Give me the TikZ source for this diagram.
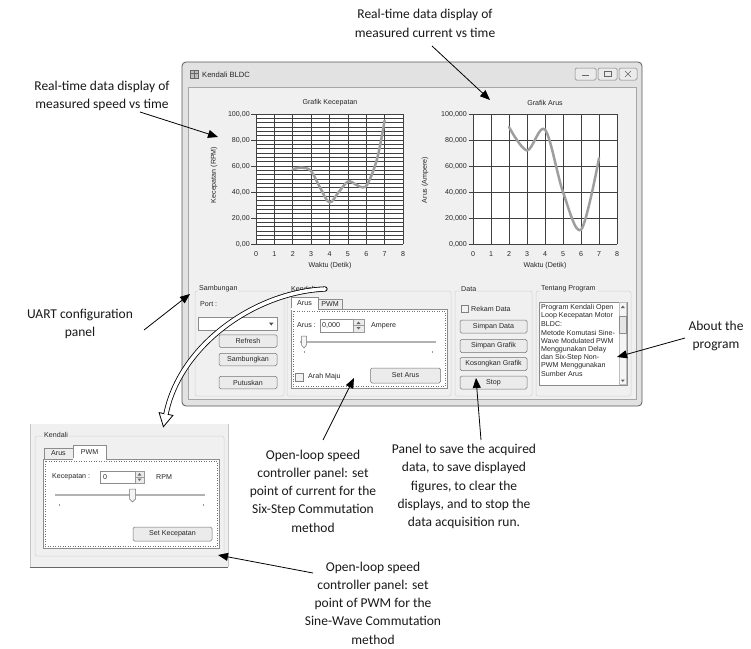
\documentclass[tikz,border=0pt]{standalone}
\usepackage{fontspec}
\newfontfamily\annfont{Carlito}
\newfontfamily\uifont{Liberation Sans}
\usetikzlibrary{arrows.meta}
\definecolor{formbg}{HTML}{F0F0F0}
\definecolor{framebg}{HTML}{E2E2E2}
\begin{document}
\begin{tikzpicture}[x=1pt,y=-1pt,
  ann/.style={font=\annfont\fontsize{13.5}{18.3}\selectfont, align=center, inner sep=0pt, text=black!90},
  ui/.style={font=\uifont\fontsize{7.1}{8}\selectfont, inner sep=0pt, text=black!85},
  btn/.style={ui, draw=black!55, fill=black!8, rounded corners=1.5pt, line width=0.5pt},
  annarrow/.style={line width=0.8pt, -{Triangle[length=10pt,width=8pt]}},
  gridc/.style={line width=0.6pt, draw=black!75},
  curvec/.style={line width=2.5pt, draw=black!38, line cap=round, line join=round},
  grp/.style={draw=black!18, line width=0.5pt, rounded corners=2pt},
  tbox/.style={draw=black!45, fill=white, line width=0.5pt},
  chk/.style={draw=black!50, fill=black!5, line width=0.5pt},
  tabsel/.style={draw=black!45, fill=white, line width=0.5pt},
  tabun/.style={draw=black!45, fill=black!7, line width=0.5pt},
  glabel/.style={ui, fill=formbg, inner xsep=1pt, inner ysep=1pt, anchor=west},
]
\useasboundingbox (0,0) rectangle (751,648);
\fill[white] (0,0) rectangle (751,648);

% ---------------- window ----------------
\draw[fill=framebg, draw=black!65, line width=0.8pt, rounded corners=4pt] (182,62) rectangle (642,406);
\draw[fill=formbg, draw=black!35, line width=0.5pt] (188,87) rectangle (636,399);
% icon and title
\draw[fill=black!25, draw=black!60, line width=0.4pt] (190,70) rectangle (198,78);
\draw[black!60, line width=0.3pt] (190,73) -- (198,73) (194,70) -- (194,78);
\node[ui, anchor=west, font=\uifont\fontsize{7.6}{9}\selectfont] (wtitle) at (202,74.5) {Kendali BLDC};
% title buttons
\draw[fill=black!8, draw=black!50, line width=0.5pt, rounded corners=1.5pt] (575,68) rectangle (596,80);
\draw[black!60, line width=0.9pt] (582,75.5) -- (589,75.5);
\draw[fill=black!8, draw=black!50, line width=0.5pt, rounded corners=1.5pt] (598,68) rectangle (617,80);
\draw[black!60, line width=0.6pt] (604,71.5) rectangle (611,76.5);
\draw[fill=black!8, draw=black!50, line width=0.5pt, rounded corners=1.5pt] (619,68) rectangle (637,80);
\draw[black!60, line width=0.6pt] (625,71) -- (631,77) (625,77) -- (631,71);

% ---------------- chart 1 ----------------
\node[ui] (t1) at (330,103) {Grafik Kecepatan};
\node[ui, rotate=90] (yl1) at (214,175) {Kecepatan (RPM)};
\node[ui] (xl1) at (330,266) {Waktu (Detik)};
\begin{scope}[shift={(256,244)}, x=18.375pt, y=1.3pt]
  \fill[white] (0,0) rectangle (8,100);
  \foreach \i in {0,...,30} \draw[gridc] (0,{\i*10/3}) -- (8,{\i*10/3});
  \foreach \i in {0,...,8} {\draw[gridc] (\i,0) -- (\i,100);
    \node[ui] (ax\i) at (\i,-7.7) {\i};}
  \foreach \v/\l in {0/{0,00},20/{20,00},40/{40,00},60/{60,00},80/{80,00},100/{100,00}} {
    \draw[gridc] (-0.25,\v) -- (0,\v);
    \node[ui, anchor=east] (ay\v) at (-0.33,\v) {\l};}
  \draw[curvec] plot[smooth, tension=0.6] coordinates {(2,57.5) (2.5,58.7) (3,56) (3.5,43) (4,32) (4.5,40) (5,48) (5.4,46) (5.8,43.5) (6.1,47) (6.6,66) (7,95)};
\end{scope}

% ---------------- chart 2 ----------------
\node[ui] (t2) at (545,103) {Grafik Arus};
\node[ui, rotate=90] (yl2) at (425,180) {Arus (Ampere)};
\node[ui] (xl2) at (545,266) {Waktu (Detik)};
\begin{scope}[shift={(473,244)}, x=18pt, y=1.3pt]
  \fill[white] (0,0) rectangle (8,100);
  \foreach \i in {0,20,...,100} \draw[gridc] (0,\i) -- (8,\i);
  \foreach \i in {0,...,8} {\draw[gridc] (\i,0) -- (\i,100);
    \node[ui] (bx\i) at (\i,-7.7) {\i};}
  \foreach \v/\l in {0/{0,000},20/{20,000},40/{40,000},60/{60,000},80/{80,000},100/{100,000}} {
    \draw[gridc] (-0.25,\v) -- (0,\v);
    \node[ui, anchor=east] (by\v) at (-0.33,\v) {\l};}
  \draw[curvec] plot[smooth, tension=0.55] coordinates {(2,90) (3,72) (4,88) (5,40) (6,11) (7,66)};
\end{scope}

% ---------------- group boxes ----------------
\draw[grp] (195,291) rectangle (284,396);
\draw[grp] (287,291) rectangle (451,396);
\draw[grp] (455,291) rectangle (532,396);
\draw[grp] (536,291) rectangle (631,396);
\node[glabel] (gSamb) at (198,289) {Sambungan};
\node[glabel] (gKend) at (290,289) {Kendali};
\node[glabel] (gData) at (460,289) {Data};
\node[glabel] (gTent) at (540,289) {Tentang Program};

% Sambungan
\node[ui, anchor=west] (port) at (200,304) {Port :};
\draw[tbox] (198,317) rectangle (277,330);
\fill[black!70] (269,322.5) -- (273.5,322.5) -- (271.25,325.5) -- cycle;
\node[btn, minimum width=58pt, minimum height=12.5pt] (bRefresh) at (248,341) {Refresh};
\node[btn, minimum width=58pt, minimum height=12.5pt] (bSamb) at (248,359.5) {Sambungkan};
\node[btn, minimum width=58pt, minimum height=12.5pt] (bPutus) at (248,382.5) {Putuskan};

% Kendali (Arus tab)
\draw[tabun] (318,299) rectangle (342,309);
\node[ui] (tabPwm) at (330,304) {PWM};
\draw[tabsel] (291,309) rectangle (447,388);
\draw[tabsel] (291,297) rectangle (318,309);
\fill[white] (291.4,308.4) rectangle (317.6,309.6);
\node[ui] (tabArus) at (304.5,303) {Arus};
\draw[black!55, dotted, line width=0.5pt] (293,311) rectangle (445,386);
\node[ui, anchor=west] (lArus) at (297,325.5) {Arus :};
\draw[tbox] (320,319) rectangle (353,332);
\node[ui, anchor=west] (vArus) at (322,325.5) {0,000};
\draw[fill=black!8, draw=black!40, line width=0.5pt] (353,319) rectangle (364,332);
\draw[black!40, line width=0.4pt] (353,325.5) -- (364,325.5);
\fill[black!60] (356.5,324) -- (360.5,324) -- (358.5,321.5) -- cycle;
\fill[black!60] (356.5,327) -- (360.5,327) -- (358.5,329.5) -- cycle;
\node[ui, anchor=west] (lAmp) at (371,325.5) {Ampere};
\draw[black!30, line width=1.2pt] (300,342) -- (436,342);
\draw[fill=black!4, draw=black!55, line width=0.5pt] (301.5,336) -- (306.5,336) -- (306.5,345) -- (304,348) -- (301.5,345) -- cycle;
\draw[black!40, line width=0.4pt] (304,351) -- (304,353) (432,351) -- (432,353);
\draw[chk] (295,373) rectangle (303,381);
\node[ui, anchor=west] (lArah) at (308,377) {Arah Maju};
\node[btn, minimum width=70pt, minimum height=15pt] (bSetArus) at (405.5,375.5) {Set Arus};

% Data
\draw[chk] (461,305) rectangle (468,312);
\node[ui, anchor=west] (lRekam) at (471,308.5) {Rekam Data};
\node[btn, minimum width=67pt, minimum height=13pt] (bSimpanD) at (493.5,326.5) {Simpan Data};
\node[btn, minimum width=67pt, minimum height=13pt] (bSimpanG) at (493.5,346) {Simpan Grafik};
\node[btn, minimum width=67pt, minimum height=13pt] (bKosong) at (493.5,364) {Kosongkan Grafik};
\node[btn, minimum width=67pt, minimum height=13pt] (bStop) at (493.5,382.5) {Stop};

% Tentang Program
\draw[tbox] (539,302) rectangle (627,385);
\draw[fill=black!4, draw=black!25, line width=0.4pt] (619,302.5) rectangle (626.5,384.5);
\draw[fill=black!10, draw=black!45, line width=0.4pt] (619.5,316) rectangle (626,333);
\fill[black!60] (620.8,308) -- (624.8,308) -- (622.8,305.5) -- cycle;
\fill[black!60] (620.8,379.5) -- (624.8,379.5) -- (622.8,382) -- cycle;
\foreach \t [count=\k from 0] in {Program Kendali Open,Loop Kecepatan Motor,BLDC:,Metode Komutasi Sine-,Wave Modulated PWM,Menggunakan Delay,dan Six-Step Non-,PWM Menggunakan,Sumber Arus}
  \node[ui, anchor=west] (tp\k) at (541,{307.7+8.33*\k}) {\t};

% ---------------- inset ----------------
\fill[formbg] (30,424) rectangle (228,567);
\draw[black!22, line width=0.5pt] (30,424) -- (30,567) (228,424) -- (228,567);
\draw[black!60, line width=0.9pt] (30,567) -- (228,567);
\draw[grp] (35,436) rectangle (224,556);
\node[glabel] (iKend) at (43,435) {Kendali};
\draw[tabun] (44,448) rectangle (73,459);
\node[ui] (iTabArus) at (58.5,453.5) {Arus};
\draw[tabsel] (43,459) rectangle (219,548);
\draw[tabsel] (73,445) rectangle (106,459);
\fill[white] (73.4,458.4) rectangle (105.6,459.6);
\node[ui] (iTabPwm) at (89.5,452) {PWM};
\draw[black!55, dotted, line width=0.5pt] (45,461) rectangle (217,546);
\node[ui, anchor=west] (iKec) at (52,477) {Kecepatan :};
\draw[tbox] (100,471) rectangle (135,483);
\node[ui, anchor=west] (iVal) at (103,477) {0};
\draw[fill=black!8, draw=black!40, line width=0.5pt] (135,471) rectangle (144,483);
\draw[black!40, line width=0.4pt] (135,477) -- (144,477);
\fill[black!60] (137.5,475.5) -- (141.5,475.5) -- (139.5,473) -- cycle;
\fill[black!60] (137.5,478.5) -- (141.5,478.5) -- (139.5,481) -- cycle;
\node[ui, anchor=west] (iRpm) at (156,477) {RPM};
\draw[black!30, line width=1.2pt] (55,495) -- (205,495);
\draw[fill=black!4, draw=black!55, line width=0.5pt] (129.5,489) -- (135.5,489) -- (135.5,499) -- (132.5,502) -- (129.5,499) -- cycle;
\draw[black!40, line width=0.4pt] (59,504) -- (59,506) (203,504) -- (203,506);
\node[btn, minimum width=79pt, minimum height=14pt] (bSetKec) at (172.5,534) {Set Kecepatan};

% ---------------- hollow curved arrow ----------------
\coordinate (hs) at (325,289);
\coordinate (he) at (166,414);
\draw[line width=5.2pt, line cap=round] (hs) .. controls (255,292) and (180,345) .. (he);
\draw[fill=white, line width=0.8pt, line join=miter] (159.1,412.6) -- (172.9,415.4) -- (163.4,426.7) -- cycle;
\draw[white, line width=3.6pt, line cap=round] (hs) .. controls (255,292) and (180,345) .. (he);

% ---------------- annotations ----------------
\node[ann] (aTop) at (425,23.5) {Real-time data display of\\measured current vs time};
\node[ann] (aLeft) at (102,96) {Real-time data display of\\measured speed vs time};
\node[ann] (aUart) at (80,324) {UART configuration\\panel};
\node[ann] (aAbout) at (716,336) {About the\\program};
\node[ann] (aCur) at (313,491) {Open-loop speed\\controller panel: set\\point of current for the\\Six-Step Commutation\\method};
\node[ann] (aPanel) at (464,486.5) {Panel to save the acquired\\data, to save displayed\\figures, to clear the\\displays, and to stop the\\data acquisition run.};
\node[ann] (aPwm) at (373,603) {Open-loop speed\\controller panel: set\\point of PWM for the\\Sine-Wave Commutation\\method};

\coordinate (s1) at (432,46);   \coordinate (e1) at (490,100);
\coordinate (s2) at (140,112);  \coordinate (e2) at (218,137);
\coordinate (s3) at (144,330);  \coordinate (e3) at (190,294);
\coordinate (s4) at (685,338);  \coordinate (e4) at (617,357);
\coordinate (s5) at (323,440);  \coordinate (e5) at (354,378);
\coordinate (s6) at (481,440);  \coordinate (e6) at (476,378);
\coordinate (s7) at (313,573);  \coordinate (e7) at (218,555);
\foreach \k in {1,...,7} \draw[annarrow] (s\k) -- (e\k);
\end{tikzpicture}
\end{document}
